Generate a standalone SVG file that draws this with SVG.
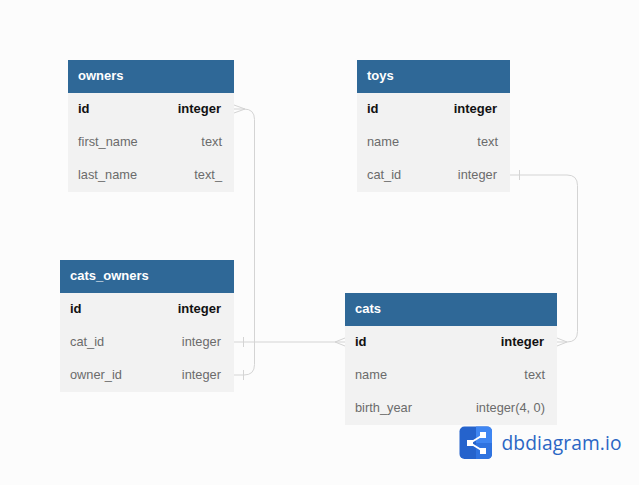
<svg xmlns="http://www.w3.org/2000/svg" width="639" height="485" viewBox="0 0 639 485">
<style>
text{font-family:"Liberation Sans",Arial,sans-serif;font-size:12.8px;fill:#6b6b6b}
.h{fill:#2f6897}.b{fill:#f2f2f2}
text.t{fill:#fff;font-weight:700;font-size:13px}
text.k{fill:#111;font-weight:700;font-size:13px}
text.r{text-anchor:end}
.c{fill:none;stroke:#d4d4d4;stroke-width:1}
text.logo{font-family:"Open Sans","Noto Sans",sans-serif;font-size:19.2px;fill:#2b66c4;letter-spacing:.1px}
</style>
<rect width="639" height="485" fill="#fcfcfc"/>
<g id="connectors">
<path class="c" d="M234 109H244Q254.500 109 254.500 119.500V364.500Q254.500 375 244 375H234"/>
<path class="c" d="M234 105L245 109L234 113"/>
<path class="c" d="M243.500 370V380"/>
<path class="c" d="M234 342H345"/>
<path class="c" d="M243.500 337V347M345 338L335 342L345 346"/>
<path class="c" d="M510 175H567Q577.500 175 577.500 185.500V331.500Q577.500 342 567 342H557"/>
<path class="c" d="M519.500 170V180M557 338L567 342L557 346"/>
</g>
<g id="owners">
<rect class="b" x="68" y="93" width="166" height="99"/><rect class="h" x="68" y="60" width="166" height="33"/>
<text class="t" x="78" y="80">owners</text>
<text class="k" x="78" y="113">id</text><text class="k r" x="221" y="113">integer</text>
<text x="78" y="146">first_name</text><text class="r" x="222" y="146">text</text>
<text x="78" y="179">last_name</text><text class="r" x="222" y="179">text_</text>
</g>
<g id="toys">
<rect class="b" x="357" y="93" width="153" height="99"/><rect class="h" x="357" y="60" width="153" height="33"/>
<text class="t" x="367" y="80">toys</text>
<text class="k" x="367" y="113">id</text><text class="k r" x="497" y="113">integer</text>
<text x="367" y="146">name</text><text class="r" x="498" y="146">text</text>
<text x="367" y="179">cat_id</text><text class="r" x="497" y="179">integer</text>
</g>
<g id="cats_owners">
<rect class="b" x="60" y="293" width="174" height="99"/><rect class="h" x="60" y="260" width="174" height="33"/>
<text class="t" x="70" y="280">cats_owners</text>
<text class="k" x="70" y="313">id</text><text class="k r" x="221" y="313">integer</text>
<text x="70" y="346">cat_id</text><text class="r" x="221" y="346">integer</text>
<text x="70" y="379">owner_id</text><text class="r" x="221" y="379">integer</text>
</g>
<g id="cats">
<rect class="b" x="345" y="326" width="212" height="99"/><rect class="h" x="345" y="293" width="212" height="33"/>
<text class="t" x="355" y="313">cats</text>
<text class="k" x="355" y="346">id</text><text class="k r" x="544" y="346">integer</text>
<text x="355" y="379">name</text><text class="r" x="545" y="379">text</text>
<text x="355" y="412">birth_year</text><text class="r" x="545" y="412">integer(4, 0)</text>
</g>
<g id="logo">
<rect x="459.500" y="426.500" width="32.500" height="32.500" rx="5" fill="#2563cc"/>
<path d="M476 426.500H487Q492 426.500 492 431.500V443H476Z" fill="#3f86f2"/>
<path d="M476 443H492V454Q492 459 487 459H476Z" fill="#2f73e0"/>
<path d="M470 443L483 435M470 443L483 451" stroke="#fff" stroke-width="2" fill="none"/>
<rect x="467" y="440" width="6" height="6" fill="#fff"/>
<rect x="480" y="432" width="6" height="6" fill="#fff"/><rect x="480" y="448" width="6" height="6" fill="#fff"/>
<text class="logo" x="501.500" y="450">dbdiagram.io</text>
</g>
</svg>
